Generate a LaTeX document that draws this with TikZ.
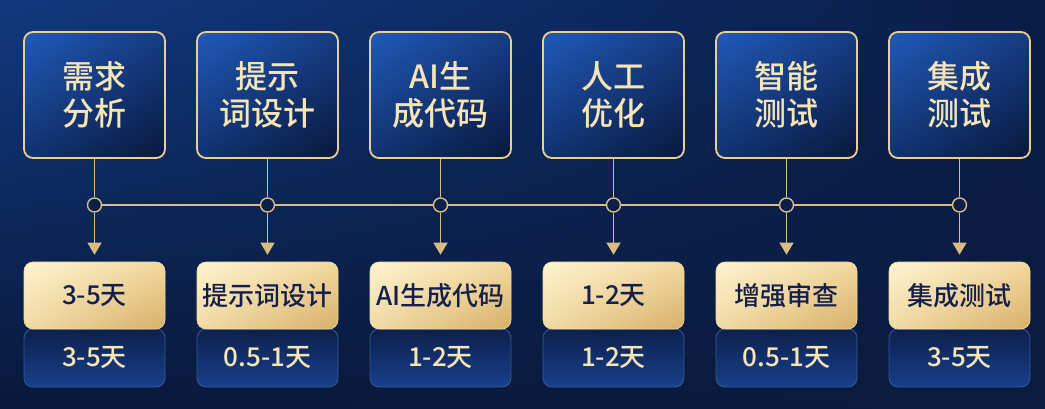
\documentclass[tikz,border=0pt]{standalone}
\usepackage{fontspec}
\setmainfont{Noto Sans CJK SC Medium}
\usetikzlibrary{arrows.meta,shadings}

\definecolor{goldline}{HTML}{D8BC84}
\definecolor{rimgold}{HTML}{EACF95}
\definecolor{creamtxt}{HTML}{F7E5B5}
\definecolor{navytxt}{HTML}{15204A}
\definecolor{dotfill}{HTML}{0B1F48}
\definecolor{bgUL}{HTML}{12397F}
\definecolor{bgUR}{HTML}{091C46}
\definecolor{bgLL}{HTML}{08183A}
\definecolor{bgLR}{HTML}{0A1B3E}
\definecolor{stUL}{HTML}{215AB8}
\definecolor{stUR}{HTML}{163C84}
\definecolor{stLL}{HTML}{113270}
\definecolor{stLR}{HTML}{09183C}
\definecolor{gdUL}{HTML}{FFF3D0}
\definecolor{gdUR}{HTML}{F2D89E}
\definecolor{gdLL}{HTML}{F0DAA5}
\definecolor{gdLR}{HTML}{D6B068}
\definecolor{gdedge}{HTML}{F0DAA0}
\definecolor{dyedge}{HTML}{3A5890}
\definecolor{dytop}{HTML}{0C204C}
\definecolor{dybot}{HTML}{18408C}

\tikzset{
  stage/.style={draw=rimgold, line width=1.8pt, rounded corners=9pt,
    minimum width=141pt, minimum height=126pt, inner sep=0pt,
    upper left=stUL, upper right=stUR, lower left=stLL, lower right=stLR,
    text=creamtxt, align=center, font=\fontsize{32}{37}\selectfont},
  goldtag/.style={draw=gdedge, line width=0.6pt, rounded corners=9pt,
    minimum width=141pt, minimum height=67pt, inner sep=0pt,
    upper left=gdUL, upper right=gdUR, lower left=gdLL, lower right=gdLR,
    text=navytxt, font=\fontsize{26}{29}\selectfont},
  daybox/.style={draw=dyedge, line width=0.8pt, rounded corners=9pt,
    minimum width=141pt, minimum height=58pt, inner sep=0pt,
    top color=dytop, bottom color=dybot,
    text=creamtxt, font=\fontsize{26}{29}\selectfont},
  joint/.style={circle, draw=goldline, line width=1.4pt, fill=dotfill, minimum size=14pt, inner sep=0pt},
  wire/.style={draw=goldline, line width=1.4pt}
}

\begin{document}
\begin{tikzpicture}[x=1pt,y=-1pt]
  \shade[upper left=bgUL, upper right=bgUR, lower left=bgLL, lower right=bgLR]
    (0,0) rectangle (1045,409);
  \useasboundingbox (0,0) rectangle (1045,409);

  \foreach \i/\head/\tag/\days in {1/{需求\\分析}/3-5天/3-5天,
      2/{提示\\词设计}/提示词设计/0.5-1天,
      3/{AI生\\成代码}/AI生成代码/1-2天,
      4/{人工\\优化}/1-2天/1-2天,
      5/{智能\\测试}/增强审查/0.5-1天,
      6/{集成\\测试}/集成测试/3-5天} {
    \node[stage] (s\i) at ({94.5+173*(\i-1)},95) {\head};
    \node[joint] (j\i) at ({94.5+173*(\i-1)},205) {};
    \node[daybox] (d\i) at ({94.5+173*(\i-1)},358) {\days};
    \node[goldtag] (g\i) at ({94.5+173*(\i-1)},295.5) {\tag};
    \draw[wire] (s\i.south) -- (j\i);
    \draw[wire, -{Triangle[width=14pt,length=12pt]}, shorten >=7pt] (j\i) -- (g\i.north);
  }
  \foreach \i [evaluate=\i as \k using int(\i+1)] in {1,...,5}
    \draw[wire] (j\i) -- (j\k);
\end{tikzpicture}
\end{document}
